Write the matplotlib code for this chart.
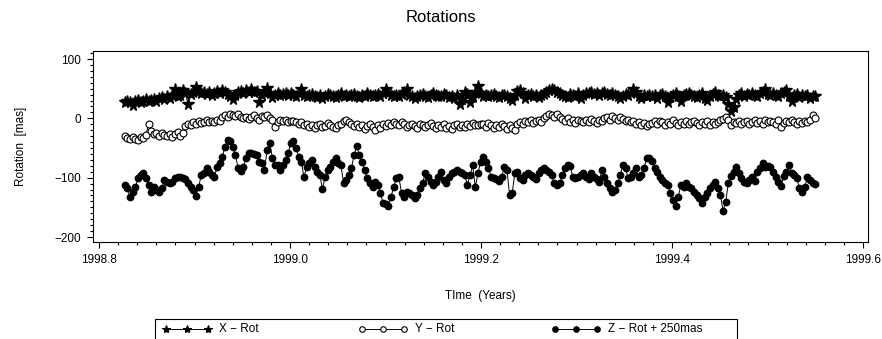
import matplotlib.pyplot as plt
import numpy as np
from matplotlib.lines import Line2D
from matplotlib.patches import Rectangle
from matplotlib.ticker import MultipleLocator, FormatStrFormatter

plt.rcParams['font.family'] = ['Liberation Sans', 'DejaVu Sans']

# observation span (decimal years), roughly daily sampling
t_start, t_end = 1998.827, 1999.550

# X rotation [mas]
x_rot = [
    28, 30, 27, 22, 29, 31, 28, 30, 32, 29,
    31, 33, 30, 34, 36, 33, 38, 35, 40, 49,
    37, 39, 48, 42, 24, 41, 44, 53, 46, 43,
    45, 41, 44, 40, 42, 46, 43, 48, 44, 41,
    38, 32, 40, 44, 46, 43, 47, 45, 50, 44,
    46, 28, 40, 45, 51, 42, 36, 40, 42, 39,
    41, 43, 40, 42,
    40, 38, 42, 49, 39, 37, 40, 41, 38, 36,
    39, 34, 38, 41, 40, 37, 36, 39, 42, 38,
    40, 37, 39, 41, 38, 36, 40, 38, 42, 39,
    37, 40, 41, 38, 43, 49, 42, 39, 37, 40,
    38, 41, 44, 50, 40, 38, 34, 37, 39, 41,
    38, 36, 39, 42, 40, 37, 38, 41, 39, 36,
    38, 35, 40, 24, 33, 45, 41, 28, 36, 44,
    55, 42,
    38, 40, 37, 39, 41, 38, 36, 40, 39, 37,
    35, 31, 40, 46, 48, 42, 34, 39, 41, 38,
    40, 36, 39, 41, 44, 48, 50, 47, 45, 42,
    40, 38, 36, 41, 39, 37, 42, 35, 40, 43,
    42, 44, 41, 43, 40, 42, 44, 41, 39, 43,
    40, 38, 34, 37, 41, 39, 42, 50, 44, 38,
    34, 39, 37, 40,
    37, 40, 35, 39, 41, 38, 28, 36, 40, 42,
    37, 30, 39, 41, 43, 40, 38, 36, 39, 42,
    34, 31, 38, 41, 44, 40, 37, 39, 36, 24,
    13, 19, 33, 40, 42, 38, 41, 39, 43, 40,
    37, 42, 44, 49, 41, 39, 43, 40, 38, 42,
    45, 48, 38, 30, 39, 41, 36, 40, 37, 39,
    35, 38, 37,
]

# Y rotation [mas]
y_rot = [
    -30, -33, -35, -32, -34, -36, -31, -33, -28, -10,
    -22, -27, -25, -29, -24, -28, -30, -26, -31, -27,
    -23, -29, -25, -13, -10, -12, -7, -9, -5, -8,
    -6, -3, -7, -4, -6, -2, -5, 2, 5, 3,
    8, 6, 4, 7, 3, 0, 2, -1, 3, 5,
    1, -2, 4, 2, 6, 0, -3, -15, -6, -3,
    -5, -2, -6, -4,
    -4, -7, -10, -6, -12, -9, -14, -11, -16, -12,
    -10, -15, -13, -8, -11, -14, -17, -12, -9, -5,
    -3, -7, -10, -13, -9, -15, -11, -18, -13, -10,
    -14, -19, -12, -16, -10, -13, -8, -11, -6, -9,
    -12, -7, -10, -14, -11, -9, -13, -16, -10, -12,
    -15, -11, -8, -13, -17, -12, -14, -10, -16, -13,
    -18, -12, -9, -14, -11, -15, -10, -13, -8, -12,
    -11, -9,
    -10, -14, -8, -12, -17, -11, -15, -9, -13, -18,
    -12, -16, -19, -10, -6, -9, -4, -7, -3, -8,
    -5, -2, -6, 1, 4, 8, 6, 3, 7, 2,
    -1, -4, 0, -6, -3, -8, -2, -5, -7, -3,
    -6, -1, -4, -8, -2, -5, 0, 3, -2, 4,
    1, -3, 2, -1, -5, -2, -7, -4, -9, -6,
    -11, -8, -13, -9,
    -8, -5, -10, -4, -7, -11, -6, -9, -3, -8,
    -12, -6, -9, -5, -10, -7, -4, -8, -11, -6,
    -9, -5, -12, -7, -10, -6, -3, -1, 2, -2,
    -11, -6, -8, -4, -9, -7, -5, -10, -6, -3,
    -8, -5, -9, -2, -7, -4, -6, -10, -3, -15,
    -8, -4, -7, -3, -6, -9, -5, -8, -4, -7,
    -2, 5, 1,
]

# Z rotation + 250 mas
z_rot_plus250 = [
    -112, -118, -133, -124, -116, -101, -96, -92, -100, -112,
    -124, -116, -121, -124, -118, -104, -107, -109, -107, -101,
    -99, -99, -101, -103, -109, -116, -121, -131, -116, -96,
    -92, -84, -90, -95, -99, -82, -75, -65, -48, -37,
    -38, -48, -62, -84, -89, -82, -67, -59, -59, -60,
    -62, -74, -75, -87, -53, -42, -67, -79, -79, -87,
    -79, -70, -59, -42,
    -38, -50, -65, -74, -99, -82, -75, -70, -82, -90,
    -96, -119, -99, -87, -82, -74, -67, -75, -79, -109,
    -104, -96, -84, -62, -47, -62, -74, -87, -101, -109,
    -116, -107, -112, -126, -143, -145, -148, -133, -116, -101,
    -99, -126, -133, -124, -126, -129, -134, -129, -118, -109,
    -92, -99, -107, -112, -107, -99, -90, -104, -109, -99,
    -92, -90, -87, -90, -92, -96, -112, -96, -79, -116,
    -92, -74,
    -65, -74, -84, -99, -101, -103, -106, -99, -82, -87,
    -129, -126, -92, -90, -101, -104, -96, -92, -96, -99,
    -103, -92, -87, -84, -87, -90, -96, -109, -112, -109,
    -96, -84, -79, -80, -99, -101, -99, -96, -92, -99,
    -103, -92, -99, -103, -107, -87, -99, -109, -118, -124,
    -121, -109, -96, -79, -84, -101, -99, -92, -84, -99,
    -96, -84, -67, -66,
    -72, -84, -90, -99, -104, -109, -112, -126, -138, -148,
    -133, -112, -116, -109, -116, -118, -124, -129, -134, -143,
    -133, -126, -118, -112, -107, -118, -129, -156, -141, -109,
    -98, -90, -82, -92, -101, -107, -109, -104, -99, -105,
    -90, -84, -75, -82, -80, -82, -90, -99, -107, -114,
    -98, -90, -79, -92, -96, -101, -118, -124, -116, -99,
    -104, -109, -110,
]

legend_labels = ["X \u2212 Rot", "Y \u2212 Rot", "Z \u2212 Rot + 250mas"]

t = np.linspace(t_start, t_end, len(x_rot))

W, H = 882, 339
fig = plt.figure(figsize=(W / 100, H / 100), dpi=100)
ax = fig.add_axes([93 / W, 1 - 242 / H, 775 / W, 191 / H])

# the three series
ax.plot(t, x_rot, color="black", lw=0.7, marker="*", ms=8.5,
        mfc="black", mec="black")
ax.plot(t, y_rot, color="black", lw=0.7, marker="o", ms=5,
        mfc="white", mec="black", mew=0.8)
ax.plot(t, z_rot_plus250, color="black", lw=0.7, marker="o", ms=4.6,
        mfc="black", mec="black")

ax.set_xlim(1998.7937, 1999.6052)
ax.set_ylim(-208.4, 113.5)

ax.xaxis.set_major_locator(MultipleLocator(0.2))
ax.xaxis.set_minor_locator(MultipleLocator(0.02))
ax.xaxis.set_major_formatter(FormatStrFormatter("%.1f"))
ax.yaxis.set_major_locator(MultipleLocator(100))
ax.yaxis.set_minor_locator(MultipleLocator(10))
ax.tick_params(which="both", direction="out", top=False, right=False,
               width=0.8, labelsize=8.5, pad=4)
ax.tick_params(which="major", length=4.5)
ax.tick_params(which="minor", length=2.3)
for s in ax.spines.values():
    s.set_linewidth(0.8)

fig.text(0.5, 1 - 18 / H, "Rotations", ha="center", va="center", fontsize=12)
fig.text(480 / W, 1 - 296 / H, "TIme  (Years)", ha="center", va="center",
         fontsize=8.5)
fig.text(21 / W, 1 - 146 / H, "Rotation  [mas]", ha="center", va="center",
         rotation=90, fontsize=8.5)

# legend box at the bottom (cut off by the figure edge)
fig.add_artist(Rectangle((155 / W, 1 - 350 / H), 582 / W, 31 / H,
                         transform=fig.transFigure, fill=False,
                         edgecolor="black", lw=0.8, clip_on=False))
ly = 1 - 329 / H
styles = [dict(marker="*", ms=6, mfc="black"),
          dict(marker="o", ms=4, mfc="white"),
          dict(marker="o", ms=4, mfc="black")]
starts = [166, 362, 555]
for x0, st, lab in zip(starts, styles, legend_labels):
    xs = [x0 / W, (x0 + 21) / W, (x0 + 42) / W]
    fig.add_artist(Line2D(xs, [ly] * 3, transform=fig.transFigure,
                          color="black", lw=0.7, mec="black", mew=0.8, **st))
    fig.text((x0 + 53) / W, ly, lab, ha="left", va="center", fontsize=8.5)

plt.savefig("out.png", dpi=100)
